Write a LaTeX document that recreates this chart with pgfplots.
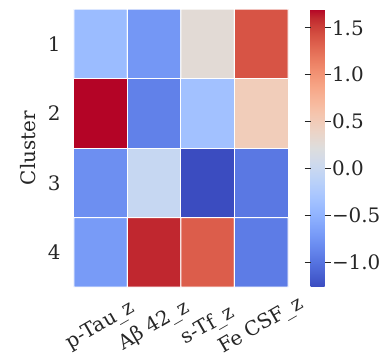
\documentclass[border=0pt]{standalone}
\usepackage{pgfplots}
\pgfplotsset{compat=1.18}
\usepackage{pgfplotstable}
\usepackage{fontspec}
\setmainfont{DejaVu Serif}
\definecolor{txt}{rgb}{0.15,0.15,0.15}
\pgfplotsset{colormap={coolwarm}{
rgb255=(59,76,192) rgb255=(68,90,204) rgb255=(77,104,215) rgb255=(87,117,225)
rgb255=(98,130,234) rgb255=(108,142,241) rgb255=(119,154,247) rgb255=(130,165,251)
rgb255=(141,176,254) rgb255=(152,185,255) rgb255=(163,194,255) rgb255=(174,201,253)
rgb255=(184,208,249) rgb255=(194,213,244) rgb255=(204,217,238) rgb255=(213,219,230)
rgb255=(221,221,221) rgb255=(229,216,209) rgb255=(236,211,197) rgb255=(241,204,185)
rgb255=(245,196,173) rgb255=(247,187,160) rgb255=(247,177,148) rgb255=(247,166,135)
rgb255=(244,154,123) rgb255=(241,141,111) rgb255=(236,127,99) rgb255=(229,112,88)
rgb255=(222,96,77) rgb255=(213,80,66) rgb255=(203,62,56) rgb255=(192,40,47)
rgb255=(180,4,38)}}
\pgfplotstableread{
x y c
0 1 -0.40
1 1 -0.73
2 1 0.28
3 1 1.40
0 2 1.70
1 2 -0.90
2 2 -0.34
3 2 0.49
0 3 -0.79
1 3 -0.02
2 3 -1.26
3 3 -0.96
0 4 -0.70
1 4 1.61
2 4 1.35
3 4 -0.93
}\heat
\begin{document}
\begin{tikzpicture}
\useasboundingbox (-74bp,-76bp) rectangle (305bp,287bp);
\begin{axis}[
  at={(0,0)}, anchor=south west,
  scale only axis, width=214bp, height=278bp,
  xmin=-0.5, xmax=3.5, ymin=0.5, ymax=4.5, y dir=reverse,
  axis line style={draw=none}, tick style={draw=none},
  xtick={0,1,2,3},
  xticklabels={p-Tau\_z, Aβ 42\_z, s-Tf\_z, Fe CSF\_z},
  ytick={1,2,3,4},
  font=\fontsize{20}{24}\selectfont,
  every tick label/.append style={text=txt},
  xticklabel style={yshift=-39bp, rotate=30, anchor=center},
  yticklabel style={xshift=-10bp},
  ylabel={Cluster}, ylabel style={text=txt, yshift=5bp},
  /pgf/number format/assume math mode=true,
  colormap name=coolwarm,
  point meta min=-1.26, point meta max=1.70,
  colorbar,
  colorbar style={
    at={(parent axis.north east)}, anchor=north west, xshift=14bp,
    scale only axis, width=14bp, height=278bp,
    font=\fontsize{20}{24}\selectfont,
    axis line style={draw=none},
    ytick={-1,-0.5,0,0.5,1,1.5},
    yticklabels={−1.0,−0.5,0.0,0.5,1.0,1.5},
    yticklabel style={text=txt, xshift=-2bp},
    tick align=outside, major tick length=6bp,
    ytick style={draw=txt, line width=0.8bp},
  },
]
\addplot[matrix plot*, shader=faceted, faceted color=white, line width=1bp, mesh/cols=4, point meta=explicit] table[meta=c]{\heat};
\end{axis}
\end{tikzpicture}
\end{document}
